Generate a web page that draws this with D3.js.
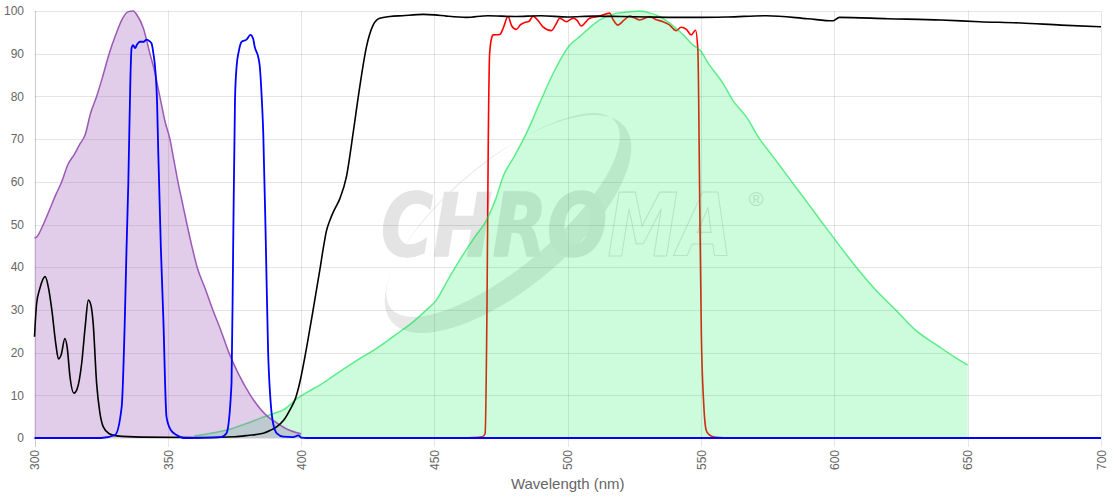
<!DOCTYPE html>
<html>
<head>
<meta charset="utf-8">
<script src="https://cdn.jsdelivr.net/npm/d3@7"></script>
<style>
  html, body { margin: 0; padding: 0; background: #fff; }
  svg { display: block; font-family: "Liberation Sans", Arial, Helvetica, sans-serif; }
</style>
</head>
<body>
<div id="chart"></div>
<script>
// 光谱图: 吸收(紫) / 发射(绿) 为填充面积, 滤光片透过率为折线. 数据为 [波长 nm, 百分比]
const xTicks = [300, 350, 400, 450, 500, 550, 600, 650, 700];
const yTicks = [0, 10, 20, 30, 40, 50, 60, 70, 80, 90, 100];

const absorption = [
  [300, 46.8], [301, 47.2], [303.3, 50], [306, 54], [308, 57], [310.2, 60], [312.5, 64], [315, 66.5],
  [317, 68.8], [319, 71], [321, 76], [323.3, 80], [325.5, 84.5], [328, 90], [330.5, 94.5], [333, 98.2],
  [335, 99.8], [337, 100], [338.5, 99], [340.8, 96], [343.3, 90], [345, 86], [347, 80], [349, 74],
  [350.8, 70], [352.3, 65], [353.8, 60], [355.5, 55], [357.2, 50], [359, 45], [361, 40], [364, 35],
  [366.9, 30], [370, 25], [372.9, 20], [376.5, 15], [381, 10], [387.5, 5], [391, 3.5], [395, 2], [400, 1]
];

const emission = [
  [360, 0.5], [365, 1], [370, 1.6], [374.5, 2.3], [380, 3.5], [384.5, 4.6], [390, 5.8], [393.3, 6.6],
  [399.5, 9.7], [403, 11], [407, 12.4], [412, 14.5], [418, 17], [423, 19], [428.3, 21], [435, 24],
  [442, 27.2], [447, 30], [450.7, 32.3], [455, 37], [459.5, 41.7], [465, 47], [469.5, 51], [473, 56],
  [475.7, 61.2], [480, 66], [484.5, 71.4], [490, 79.2], [495, 86], [500.7, 92], [504.5, 94], [508, 96],
  [512, 97.9], [518.2, 99.5], [523, 99.8], [527, 100], [531, 99.5], [534.5, 98.7], [537.5, 97.5],
  [540.7, 95.9], [544, 94], [547, 92], [549.5, 90.9], [553, 87.5], [558.2, 83.1], [562, 79], [567, 75.2],
  [572, 70], [577, 65.9], [584.4, 59.7], [590, 55], [595.6, 50.3], [602, 45], [608.1, 40.1], [615, 35],
  [623, 30], [630, 25.5], [639.3, 21.4], [645, 19], [650, 17.1]
];

const dichroic = [
  [300, 23.7], [300.8, 31.5], [302, 35], [304, 37.8], [305.3, 35], [306.5, 30], [308, 22], [309, 18.5],
  [310, 19.5], [311.4, 23.3], [312.3, 21], [313.3, 14.4], [314.8, 10.5], [316, 11.5], [317.7, 17.5],
  [319, 26], [320.2, 32.3], [321.2, 31], [322, 26.9], [323.3, 12.8], [324.5, 6], [325.8, 2.6], [328, 1],
  [330.8, 0.5], [340, 0.2], [360, 0.1], [375, 0.3], [380, 0.6], [385.8, 1.1], [388.5, 1.8], [390.8, 2.6],
  [393.5, 4.2], [395.8, 6.6], [398, 9.5], [399.5, 13], [402, 21], [404.5, 30], [407, 39.3], [408.3, 44.4],
  [409.5, 48.5], [410.8, 51], [412.5, 53.5], [414.5, 56], [417, 61.2], [419.5, 71.4], [422, 82.3],
  [424.5, 91.6], [427, 96.7], [429.5, 98.3], [433.3, 98.7], [438, 98.9], [445.8, 99.2], [450, 99.1],
  [454.5, 98.8], [462, 98.5], [470, 98.9], [480, 98.7], [490, 98.9], [500, 98.6], [510, 98.8], [520, 98.7],
  [530, 98.6], [540, 98.5], [550, 98.5], [560, 98.6], [574.5, 98.9], [590, 98.2], [599.4, 97.7],
  [601.9, 98.5], [620, 98.2], [640, 97.9], [654.4, 97.5], [670, 97.2], [685, 96.7], [700, 96.3]
];

const emFilter = [
  [460, 0], [468, 0.3], [469, 1], [469.7, 30], [470.2, 70], [470.7, 90], [471.5, 93.8], [472, 94.4],
  [474.5, 94.5], [475.8, 96], [477.6, 98.7], [479, 96.5], [480.7, 95.7], [482.3, 96.8], [483.8, 97.3],
  [485.5, 97.6], [487, 98.8], [488.8, 97.8], [490.7, 96.3], [493.9, 95.4], [495.5, 96.8], [497, 98.3],
  [499.5, 97.5], [502, 98.3], [503.5, 97.8], [505, 96.5], [508.2, 98.3], [512, 98.8], [515.7, 99.5],
  [517, 98], [518.8, 96.7], [521, 97.8], [523.2, 98.8], [525, 98.4], [527, 97.9], [530.7, 98.7],
  [533, 98], [535.7, 97.5], [538, 96.8], [540.7, 95.4], [542.5, 96.2], [544.5, 95.7], [546.3, 94.4],
  [547.9, 95.5], [548.8, 90.9], [549.5, 55.7], [550.1, 24.6], [551, 8], [551.9, 1.9], [553, 0.8],
  [555, 0.2], [560, 0]
];

const exFilterA = [
  [300, 0], [325, 0], [330.2, 0.7], [332.7, 7.3], [333.9, 28.4], [334.5, 44], [335.2, 60], [336, 85],
  [336.4, 91.3], [337, 92], [337.7, 91.3], [338.5, 92.2], [339.5, 92.8], [341, 92.8], [342, 93.3],
  [343, 93], [343.9, 92.4], [344.6, 90], [345.2, 87], [346, 78], [346.4, 67.4], [347.4, 44.4],
  [348.3, 28.4], [349.5, 5], [351, 2], [353.3, 0.7], [356, 0], [360, 0]
];

const exFilterB = [
  [360, 0], [370, 0.2], [372, 1.1], [373.9, 12.8], [374.5, 44], [375.2, 79.2], [375.8, 87], [376.6, 90.5],
  [377.7, 92.8], [379.5, 93.3], [381, 94.4], [382, 93.5], [382.6, 91.6], [384, 89], [384.5, 87],
  [385.2, 80], [385.8, 71.4], [386.8, 44.4], [387.6, 20.6], [388.5, 9], [389.5, 3.4], [391, 1],
  [393.3, 0.3], [397, 0.2], [399, 0.6], [400, 0.1], [402, 0], [700, 0]
];

const W = 1120, H = 500;
const margin = { top: 11, right: 19, bottom: 62, left: 34.5 };

const svg = d3.select("#chart").append("svg").attr("width", W).attr("height", H);

const x = d3.scaleLinear().domain([300, 700]).range([margin.left, W - margin.right]);
const y = d3.scaleLinear().domain([0, 100]).range([H - margin.bottom, margin.top]);

// 水印 (画在网格之下, 用不透明浅灰, 叠加处不加深)
const wm = svg.append("g").attr("class", "watermark");
const ring = (cx, cy, rx, ry) =>
  `M${cx - rx},${cy}a${rx},${ry} 0 1,0 ${2 * rx},0a${rx},${ry} 0 1,0 ${-2 * rx},0Z`;
wm.append("path")
  .attr("transform", "translate(508,224) rotate(-40)")
  .attr("d", ring(0, 0, 152, 63) + ring(2, -10, 146, 52))
  .attr("fill-rule", "evenodd")
  .attr("fill", "#e8e8e8");
const wmText = wm.append("text")
  .attr("x", 381).attr("y", 256)
  .attr("font-family", "'DejaVu Sans', sans-serif")
  .attr("font-size", 88).attr("font-weight", "bold").attr("font-style", "italic")
  .attr("textLength", 352).attr("lengthAdjust", "spacingAndGlyphs");
wmText.append("tspan").text("CHRO").attr("fill", "#e4e4e4")
  .attr("stroke", "#e4e4e4").attr("stroke-width", 1.5);
wmText.append("tspan").text("MA").attr("fill", "none")
  .attr("stroke", "#e2e2e2").attr("stroke-width", 1.2);
wm.append("text").attr("x", 756).attr("y", 206).attr("text-anchor", "middle")
  .attr("font-size", 20).attr("fill", "#e0e0e0").text("®");

// 网格
const grid = svg.append("g");
grid.selectAll("line.h").data(yTicks).join("line").attr("class", "h")
  .attr("x1", margin.left).attr("x2", W - margin.right)
  .attr("y1", (d) => Math.round(y(d)) + 0.5).attr("y2", (d) => Math.round(y(d)) + 0.5)
  .attr("stroke", "rgba(0,0,0,0.1)");
grid.selectAll("line.v").data(xTicks).join("line").attr("class", "v")
  .attr("x1", (d) => Math.round(x(d)) + 0.5).attr("x2", (d) => Math.round(x(d)) + 0.5)
  .attr("y1", margin.top).attr("y2", y(0) + 9)
  .attr("stroke", (d, i) => i === 0 ? "rgba(0,0,0,0.2)" : "rgba(0,0,0,0.1)");

// 刻度文字
svg.append("g").selectAll("text").data(yTicks).join("text")
  .attr("x", 24).attr("y", (d) => y(d)).attr("dy", "0.35em")
  .attr("text-anchor", "end").attr("font-size", 12).attr("fill", "#666")
  .text((d) => d);
svg.append("g").selectAll("text").data(xTicks).join("text")
  .attr("transform", (d) => `translate(${x(d) + 0.5},${y(0) + 12}) rotate(-90)`)
  .attr("dy", "0.35em").attr("text-anchor", "end")
  .attr("font-size", 12).attr("fill", "#666")
  .text((d) => d);
svg.append("text")
  .attr("x", (x(300) + x(700)) / 2).attr("y", 489)
  .attr("text-anchor", "middle").attr("font-size", 15).attr("fill", "#666")
  .text("Wavelength (nm)");

const line = d3.line().x((d) => x(d[0])).y((d) => y(d[1])).curve(d3.curveMonotoneX);
const area = d3.area().x((d) => x(d[0])).y0(y(0)).y1((d) => y(d[1])).curve(d3.curveMonotoneX);

const plot = svg.append("g");
// 绘制顺序: 红 → 绿面积 → 紫面积 → 黑 → 蓝
plot.append("path").attr("d", line(emFilter)).attr("fill", "none")
  .attr("stroke", "#ff0000").attr("stroke-width", 1.6);
plot.append("path").attr("d", area(emission)).attr("fill", "rgba(0,240,80,0.2)");
plot.append("path").attr("d", line(emission)).attr("fill", "none")
  .attr("stroke", "rgba(0,225,70,0.6)").attr("stroke-width", 1.5);
plot.append("path").attr("d", area(absorption)).attr("fill", "rgba(155,89,182,0.3)");
plot.append("path").attr("d", line(absorption)).attr("fill", "none")
  .attr("stroke", "#9b59b6").attr("stroke-width", 1.5);
plot.append("path").attr("d", line(dichroic)).attr("fill", "none")
  .attr("stroke", "#000").attr("stroke-width", 1.6);
for (const s of [exFilterA, exFilterB]) {
  plot.append("path").attr("d", line(s)).attr("fill", "none")
    .attr("stroke", "#0000ff").attr("stroke-width", 1.8);
}
</script>
</body>
</html>
